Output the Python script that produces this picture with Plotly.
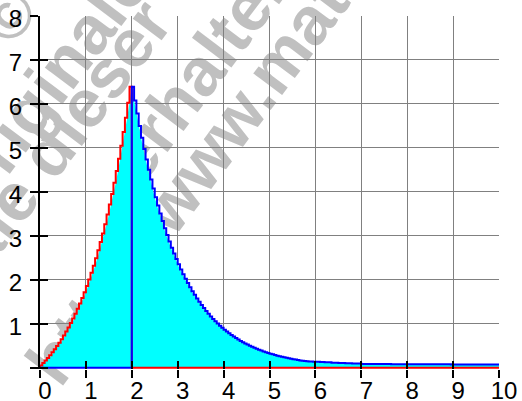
import plotly.graph_objects as go

# ---------------- data ----------------
BIN = 0.05  # width of one step

# left part (red staircase, 0 .. 2)
red_values = [0.051, 0.105, 0.162, 0.221, 0.284, 0.350, 0.419, 0.492, 0.568, 0.649,
              0.733, 0.822, 0.916, 1.014, 1.117, 1.226, 1.340, 1.460, 1.586, 1.718,
              1.858, 2.004, 2.158, 2.320, 2.490, 2.669, 2.857, 3.055, 3.263, 3.482,
              3.711, 3.953, 4.207, 4.474, 4.755, 5.050, 5.360, 5.686, 6.029, 6.389]

# right part (blue staircase, 2 .. 10)
blue_values = [6.390, 6.078, 5.782, 5.500, 5.232, 4.977, 4.734, 4.503, 4.283, 4.074,
               3.876, 3.687, 3.507, 3.336, 3.173, 3.018, 2.871, 2.731, 2.598, 2.471,
               2.351, 2.236, 2.127, 2.023, 1.925, 1.831, 1.741, 1.657, 1.576, 1.499,
               1.426, 1.356, 1.290, 1.227, 1.167, 1.110, 1.056, 1.005, 0.956, 0.909,
               0.865, 0.823, 0.783, 0.744, 0.708, 0.674, 0.641, 0.609, 0.580, 0.551,
               0.525, 0.499, 0.475, 0.451, 0.429, 0.409, 0.389, 0.370, 0.352, 0.334,
               0.318, 0.303, 0.288, 0.274, 0.260, 0.248, 0.236, 0.224, 0.213, 0.203,
               0.193, 0.184, 0.175, 0.166, 0.158, 0.150, 0.146, 0.142, 0.139, 0.136,
               0.134, 0.133, 0.130, 0.128, 0.126, 0.124, 0.122, 0.115, 0.113, 0.111,
               0.109, 0.107, 0.105, 0.103, 0.101, 0.099, 0.097, 0.095, 0.094, 0.093,
               0.085, 0.085, 0.084, 0.084, 0.083, 0.083, 0.083, 0.082, 0.082, 0.082,
               0.081, 0.081, 0.081, 0.080, 0.080, 0.080, 0.080, 0.079, 0.079, 0.079,
               0.079, 0.078, 0.078, 0.078, 0.078, 0.078, 0.077, 0.077, 0.077, 0.077,
               0.077, 0.077, 0.076, 0.076, 0.076, 0.076, 0.076, 0.076, 0.076, 0.075,
               0.075, 0.075, 0.075, 0.075, 0.075, 0.075, 0.075, 0.075, 0.075, 0.075,
               0.075, 0.075, 0.075, 0.075, 0.075, 0.075, 0.075, 0.075, 0.075, 0.075]

x_ticks = [0, 1, 2, 3, 4, 5, 6, 7, 8, 9, 10]
y_ticks = [0, 1, 2, 3, 4, 5, 6, 7, 8]
x_tick_labels = [str(v) for v in x_ticks]
y_tick_labels = ["", "1", "2", "3", "4", "5", "6", "7", "8"]

watermark_lines = ["©", "Originale", "Originale dieser", "erhalten Sie", "http://www.mathe"]

# ---------------- geometry helpers ----------------
X_SPLIT = len(red_values) * BIN          # 2.0
X_END = X_SPLIT + len(blue_values) * BIN  # 10.0

red_x = [0] + [i * BIN for i in range(len(red_values))] + [X_SPLIT, X_END]
red_y = [0] + red_values + [0, 0]

blue_x = [0] + [X_SPLIT + k * BIN for k in range(len(blue_values))] + [X_END]
blue_y = [0] + blue_values + [blue_values[-1]]

fill_x = [0] + [(i + 1) * BIN for i in range(len(red_values))] + \
         [X_SPLIT + k * BIN for k in range(1, len(blue_values))] + [X_END]
fill_y = [0] + red_values + blue_values[1:] + [blue_values[-1]]

fig = go.Figure()
fig.add_trace(go.Scatter(x=fill_x, y=fill_y, mode="lines", line=dict(width=0),
                         fill="tozeroy", fillcolor="#00FFFF", hoverinfo="skip",
                         showlegend=False))
fig.add_trace(go.Scatter(x=red_x, y=red_y, mode="lines", line_shape="hv",
                         line=dict(color="#FF0000", width=2), showlegend=False))
fig.add_trace(go.Scatter(x=blue_x, y=blue_y, mode="lines", line_shape="hv",
                         line=dict(color="#0000FF", width=2), showlegend=False))
# dummy trace to carry the inside-tick overlay axes
fig.add_trace(go.Scatter(x=[None], y=[None], xaxis="x2", yaxis="y2",
                         showlegend=False, hoverinfo="skip"))

W, H = 522, 401
ML, MR, MT, MB = 40, 23, 16, 32
pw, ph = W - ML - MR, H - MT - MB


def px_to_paper(px, py):
    return (px - ML) / pw, (H - MB - py) / ph


wm_pos = [(4, 12, 64), (40, 84, 68), (-4, 210, 68), (234, 14, 68), (206, 146, 68)]
shapes = []
for text, (cx, cy, fs) in zip(watermark_lines, wm_pos):
    xp, yp = px_to_paper(cx, cy)
    shapes.append(dict(type="rect", xref="paper", yref="paper",
                       x0=xp - 0.001, x1=xp + 0.001, y0=yp - 0.001, y1=yp + 0.001,
                       line=dict(width=0), fillcolor="rgba(0,0,0,0)", layer="below",
                       label=dict(text=text, textangle=-53, textposition="middle center",
                                  font=dict(family="Arial", size=fs, color="#C0C0C0",
                                            weight="bold"))))

tick_font = dict(family="Arial", size=24, color="black")
fig.update_layout(
    width=W, height=H, margin=dict(l=ML, r=MR, t=MT, b=MB, autoexpand=False),
    plot_bgcolor="white", paper_bgcolor="white",
    shapes=shapes,
    xaxis=dict(range=[0, 10], tickvals=x_ticks, ticktext=x_tick_labels,
               showgrid=True, gridcolor="#808080", gridwidth=1, automargin=False,
               zeroline=False, showline=False, ticklabeloverflow="allow",
               ticks="outside", ticklen=8, tickwidth=2, tickcolor="black",
               tickfont=tick_font, ticklabelshift=5, ticklabelstandoff=-8),
    yaxis=dict(range=[-0.03, 8], tickvals=y_ticks, ticktext=y_tick_labels,
               showgrid=True, gridcolor="#808080", gridwidth=1, automargin=False,
               zeroline=False, showline=True, linecolor="black", linewidth=2,
               ticklabeloverflow="allow",
               ticks="outside", ticklen=8, tickwidth=2, tickcolor="black",
               tickfont=tick_font, ticklabelstandoff=3, ticklabelshift=3),
    xaxis2=dict(overlaying="x", matches="x", anchor="y2", side="bottom",
                tickvals=x_ticks, ticks="inside", ticklen=8, tickwidth=2,
                tickcolor="black", showticklabels=False, showgrid=False,
                zeroline=False, showline=False, automargin=False),
    yaxis2=dict(overlaying="y", matches="y", anchor="x2", side="left",
                tickvals=y_ticks, ticks="inside", ticklen=8, tickwidth=2,
                tickcolor="black", showticklabels=False, showgrid=False,
                zeroline=False, showline=False, automargin=False),
)

fig.write_html("out.html")
